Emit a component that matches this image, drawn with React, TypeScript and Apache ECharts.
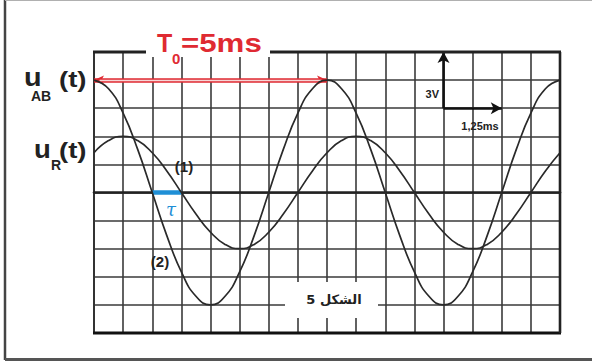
import React, { useEffect, useRef } from 'react';
import * as echarts from 'echarts';

// Sampling instants (ms), one every half screen division
const timeMs = [
  0, 0.3125, 0.625, 0.9375, 1.25, 1.5625, 1.875, 2.1875, 2.5, 2.8125, 3.125,
  3.4375, 3.75, 4.0625, 4.375, 4.6875, 5, 5.3125, 5.625, 5.9375, 6.25, 6.5625,
  6.875, 7.1875, 7.5, 7.8125, 8.125, 8.4375, 8.75, 9.0625, 9.375, 9.6875, 10,
];

// Curve (2): u_AB(t) in volts
const uAB = [
  6, 5.54, 4.24, 2.3, 0, -2.3, -4.24, -5.54, -6, -5.54, -4.24, -2.3, 0, 2.3,
  4.24, 5.54, 6, 5.54, 4.24, 2.3, 0, -2.3, -4.24, -5.54, -6, -5.54, -4.24, -2.3,
  0, 2.3, 4.24, 5.54, 6,
];

// Curve (1): u_R(t) in volts
const uR = [
  2.12, 2.77, 3, 2.77, 2.12, 1.15, 0, -1.15, -2.12, -2.77, -3, -2.77, -2.12,
  -1.15, 0, 1.15, 2.12, 2.77, 3, 2.77, 2.12, 1.15, 0, -1.15, -2.12, -2.77, -3,
  -2.77, -2.12, -1.15, 0, 1.15, 2.12,
];

const periodMs = 5; // T0
const tauStartMs = 1.25; // u_AB crosses zero here
const tauMs = 0.625; // lag of u_R behind u_AB
const scaleOrigin = [7.5, 4.5]; // corner of the sensitivity arrows
const scaleTimeMs = 1.25;
const scaleVolt = 3;

const W = 592;
const H = 362;
const GRID = { left: 94, top: 52, right: 32, bottom: 29 };
const gx0 = GRID.left;
const gx1 = W - GRID.right;
const gy0 = GRID.top;
const gy1 = H - GRID.bottom;

const INK = '#2a2a2a';
const RED = '#df2a32';
const BLUE = '#1f8fd6';
const SANS = '"Liberation Sans", Arial, sans-serif';

function pairs(ys: number[]) {
  return timeMs.map((t, i) => [t, ys[i]]);
}

function txt(text: string, x: number, y: number, size: number, extra: any = {}) {
  return {
    type: 'text',
    x,
    y,
    z: 20,
    scaleX: extra.scaleX ?? 1,
    originX: 0,
    style: {
      text,
      font: `${extra.weight ?? 'bold'} ${size}px ${extra.family ?? SANS}`,
      fill: extra.fill ?? '#222',
      align: extra.align ?? 'left',
      verticalAlign: 'middle',
    },
  };
}

export default function App() {
  const ref = useRef<HTMLDivElement>(null);

  useEffect(() => {
    if (!ref.current) return;
    const chart = echarts.init(ref.current, undefined, { renderer: 'svg' });

    const peak = uAB[0];

    chart.setOption({
      animation: false,
      backgroundColor: '#fff',
      grid: { ...GRID, containLabel: false },
      xAxis: {
        type: 'value',
        min: 0,
        max: 10,
        interval: 0.625,
        axisLabel: { show: false },
        axisTick: { show: false },
        axisLine: { show: true, onZero: true, lineStyle: { color: '#222', width: 2.6 } },
        splitLine: { show: true, lineStyle: { color: '#3a3a3a', width: 1.6 } },
      },
      yAxis: {
        type: 'value',
        min: -7.5,
        max: 7.5,
        interval: 1.5,
        axisLabel: { show: false },
        axisTick: { show: false },
        axisLine: { show: true, lineStyle: { color: '#333', width: 2 } },
        splitLine: { show: true, lineStyle: { color: '#3a3a3a', width: 1.6 } },
      },
      series: [
        {
          name: 'u_AB',
          type: 'line',
          data: pairs(uAB),
          smooth: 0.5,
          showSymbol: false,
          lineStyle: { color: INK, width: 1.7 },
          z: 5,
          markLine: {
            silent: true,
            animation: false,
            label: { show: false },
            data: [
              [
                {
                  coord: [0, peak],
                  symbol: 'arrow',
                  symbolSize: [7, 10],
                  lineStyle: { color: RED, width: 4.5, type: 'solid' },
                  itemStyle: { color: RED },
                },
                { coord: [periodMs, peak], symbol: 'arrow', symbolSize: [7, 10] },
              ],
              [
                {
                  coord: [0.12, peak],
                  symbol: 'none',
                  lineStyle: { color: '#f6d6d6', width: 1.4, type: 'solid' },
                },
                { coord: [periodMs - 0.12, peak], symbol: 'none' },
              ],
            ],
          },
        },
        {
          name: 'u_R',
          type: 'line',
          data: pairs(uR),
          smooth: 0.5,
          showSymbol: false,
          lineStyle: { color: INK, width: 1.7 },
          z: 5,
          markLine: {
            silent: true,
            animation: false,
            label: { show: false },
            data: [
              [
                {
                  coord: [tauStartMs, 0],
                  symbol: 'none',
                  lineStyle: { color: BLUE, width: 4.5, type: 'solid' },
                },
                { coord: [tauStartMs + tauMs, 0], symbol: 'none' },
              ],
              [
                {
                  coord: [scaleOrigin[0], scaleOrigin[1]],
                  symbol: 'none',
                  lineStyle: { color: '#111', width: 2.6, type: 'solid' },
                  itemStyle: { color: '#111' },
                },
                {
                  coord: [scaleOrigin[0], scaleOrigin[1] + scaleVolt],
                  symbol: 'arrow',
                  symbolSize: [9, 11],
                },
              ],
              [
                {
                  coord: [scaleOrigin[0], scaleOrigin[1]],
                  symbol: 'none',
                  lineStyle: { color: '#111', width: 2.6, type: 'solid' },
                  itemStyle: { color: '#111' },
                },
                {
                  coord: [scaleOrigin[0] + scaleTimeMs, scaleOrigin[1]],
                  symbol: 'arrow',
                  symbolSize: [9, 11],
                },
              ],
            ],
          },
        },
      ],
      graphic: [
        // outer frame of the figure
        { type: 'line', z: 1, shape: { x1: 5, y1: 0, x2: 5, y2: 360 }, style: { stroke: '#444', lineWidth: 2.5 } },
        { type: 'line', z: 1, shape: { x1: 5, y1: 359.5, x2: W, y2: 359.5 }, style: { stroke: '#555', lineWidth: 3 } },
        { type: 'line', z: 1, shape: { x1: 5, y1: 0.5, x2: W, y2: 0.5 }, style: { stroke: '#b0b0b0', lineWidth: 1 } },
        // screen border
        { type: 'line', z: 8, shape: { x1: gx0 - 1, y1: gy0, x2: gx1 + 1, y2: gy0 }, style: { stroke: '#222', lineWidth: 3 } },
        { type: 'line', z: 8, shape: { x1: gx0 - 1, y1: gy1, x2: gx1 + 1, y2: gy1 }, style: { stroke: '#111', lineWidth: 3.2 } },
        { type: 'line', z: 8, shape: { x1: gx1, y1: gy0, x2: gx1, y2: gy1 }, style: { stroke: '#222', lineWidth: 2.6 } },
        // gaps behind the title and the figure caption
        { type: 'rect', z: 15, shape: { x: 146, y: 24, width: 124, height: 33 }, style: { fill: '#fff' } },
        { type: 'rect', z: 15, shape: { x: 285, y: 282, width: 93, height: 36 }, style: { fill: '#fff' } },
        // title T0 = 5ms
        txt('T', 157, 43, 25, { fill: RED }),
        txt('0', 172, 58, 15, { fill: RED }),
        txt('=5ms', 181, 43, 25, { fill: RED, scaleX: 1.25 }),
        // curve names
        txt('u', 24, 78, 25, { scaleX: 1.15 }),
        txt('AB', 31, 96, 14),
        txt('(t)', 59, 79, 22, { scaleX: 1.25 }),
        txt('u', 34, 149, 25, { scaleX: 1.1 }),
        txt('R', 51, 165, 14),
        txt('(t)', 59, 150, 22, { scaleX: 1.25 }),
        // curve numbers
        txt('(1)', 184, 166, 15, { align: 'center' }),
        txt('(2)', 160, 261, 15, { align: 'center' }),
        // tau
        txt('τ', 171, 209, 18, { fill: BLUE, weight: 'italic', family: '"DejaVu Serif", serif', align: 'center' }),
        // sensitivity
        txt('3V', 439, 94, 11, { align: 'right' }),
        txt('1,25ms', 480, 126, 11, { align: 'center' }),
        // caption
        txt('الشكل 5', 334, 299, 13, { align: 'center', family: '"DejaVu Sans", sans-serif' }),
      ],
    });

    return () => chart.dispose();
  }, []);

  return (
    <div
      ref={ref}
      style={{ position: 'fixed', left: 0, top: 0, width: W, height: H, background: '#fff' }}
    />
  );
}
